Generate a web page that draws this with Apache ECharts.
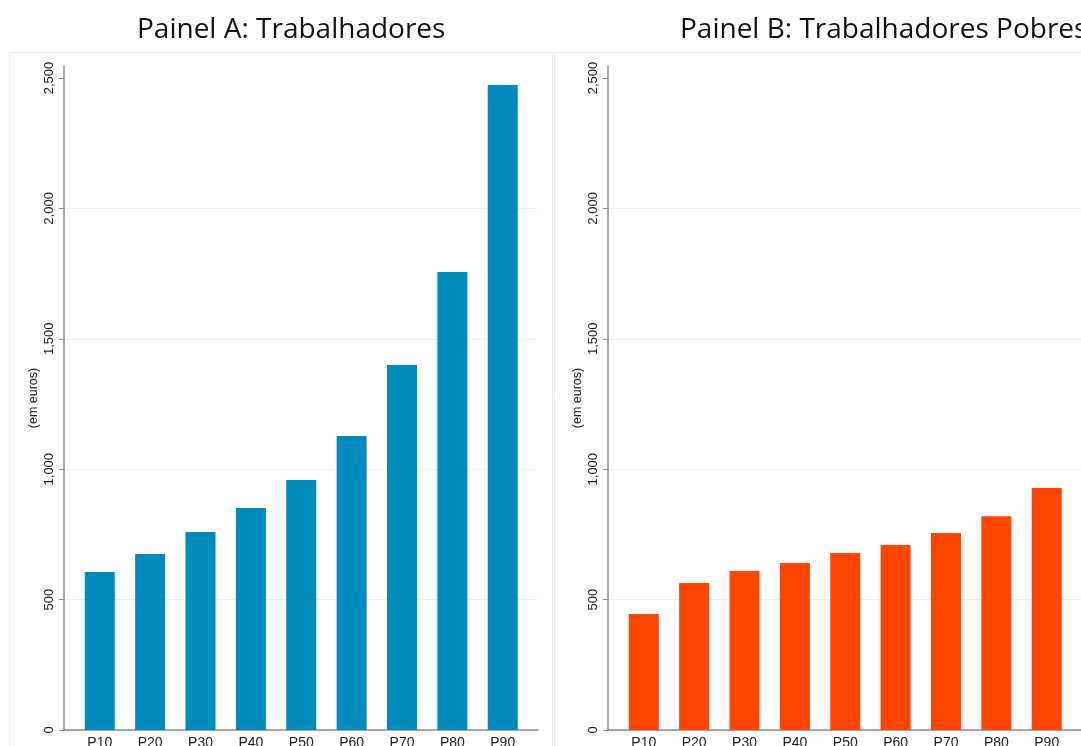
<!DOCTYPE html>
<html><head><meta charset="utf-8">
<script src="https://cdn.jsdelivr.net/npm/echarts@6/dist/echarts.min.js"></script>
<style>html,body{margin:0;padding:0;background:#fff}#c{width:1081px;height:746px}</style>
</head><body><div id="c"></div>
<script>
const categories = ['P10','P20','P30','P40','P50','P60','P70','P80','P90'];
const trabalhadores = [606, 675, 759, 851, 959, 1127, 1400, 1756, 2473];
const pobres = [445, 564, 610, 640, 679, 709, 755, 820, 928];
const yTicks = [0, 500, 1000, 1500, 2000, 2500];
const titles = ['Painel A: Trabalhadores', 'Painel B: Trabalhadores Pobres'];
const colors = ['#008bbc', '#ff4500'];

const positions = categories.map((c, i) => i + 1);
const chart = echarts.init(document.getElementById('c'));
const axisColor = '#8c8c8c';
function yAx(g){
  return {gridIndex:g, type:'value', min:0, max:2546,
    name:'(em euros)', nameLocation:'middle', nameGap:24, nameRotate:90,
    nameTextStyle:{fontFamily:'Liberation Sans', fontSize:12.5, color:'#222'},
    axisLine:{show:true, lineStyle:{color:axisColor, width:1.5}},
    axisTick:{show:true, length:5, customValues:yTicks, lineStyle:{color:axisColor}},
    axisLabel:{rotate:90, margin:8, customValues:yTicks, fontFamily:'Liberation Sans', fontSize:13, color:'#222',
      formatter:v=>v.toLocaleString('en-US')},
    splitLine:{show:true, showMaxLine:false, lineStyle:{color:'#ebf0f0', width:1}}
  };
}
function xAx(g){
  return {gridIndex:g, type:'value', min:0.29, max:9.7,
    axisLine:{show:true, onZero:false, lineStyle:{color:axisColor, width:1.5}},
    axisTick:{show:false},
    axisLabel:{customValues:positions, margin:6, fontFamily:'Liberation Sans', fontSize:14, color:'#222',
      formatter:v=>categories[Math.round(v)-1]},
    splitLine:{show:false}
  };
}
chart.setOption({
  animation:false,
  title:[
    {text:titles[0], left:132, top:11, textStyle:{fontFamily:'Open Sans', fontSize:28, fontWeight:'normal', color:'#111'}},
    {text:titles[1], left:675, top:11, textStyle:{fontFamily:'Open Sans', fontSize:28, fontWeight:'normal', color:'#111'}}
  ],
  graphic:[
    {type:'rect', shape:{x:9.5, y:52.5, width:543, height:760}, style:{fill:'none', stroke:'#e6eded', lineWidth:1}, z:-10},
    {type:'rect', shape:{x:554.5, y:52.5, width:600, height:760}, style:{fill:'none', stroke:'#e6eded', lineWidth:1}, z:-10}
  ],
  grid:[
    {left:64, top:66, width:474, bottom:16, outerBoundsMode:'none', containLabel:false},
    {left:608, top:66, width:474, bottom:16, outerBoundsMode:'none', containLabel:false}
  ],
  xAxis:[xAx(0), xAx(1)],
  yAxis:[yAx(0), yAx(1)],
  series:[
    {type:'bar', xAxisIndex:0, yAxisIndex:0, barWidth:30, itemStyle:{color:colors[0]},
      data:trabalhadores.map((v,i)=>[positions[i], v])},
    {type:'bar', xAxisIndex:1, yAxisIndex:1, barWidth:30, itemStyle:{color:colors[1]},
      data:pobres.map((v,i)=>[positions[i], v])}
  ]
});
</script></body></html>
